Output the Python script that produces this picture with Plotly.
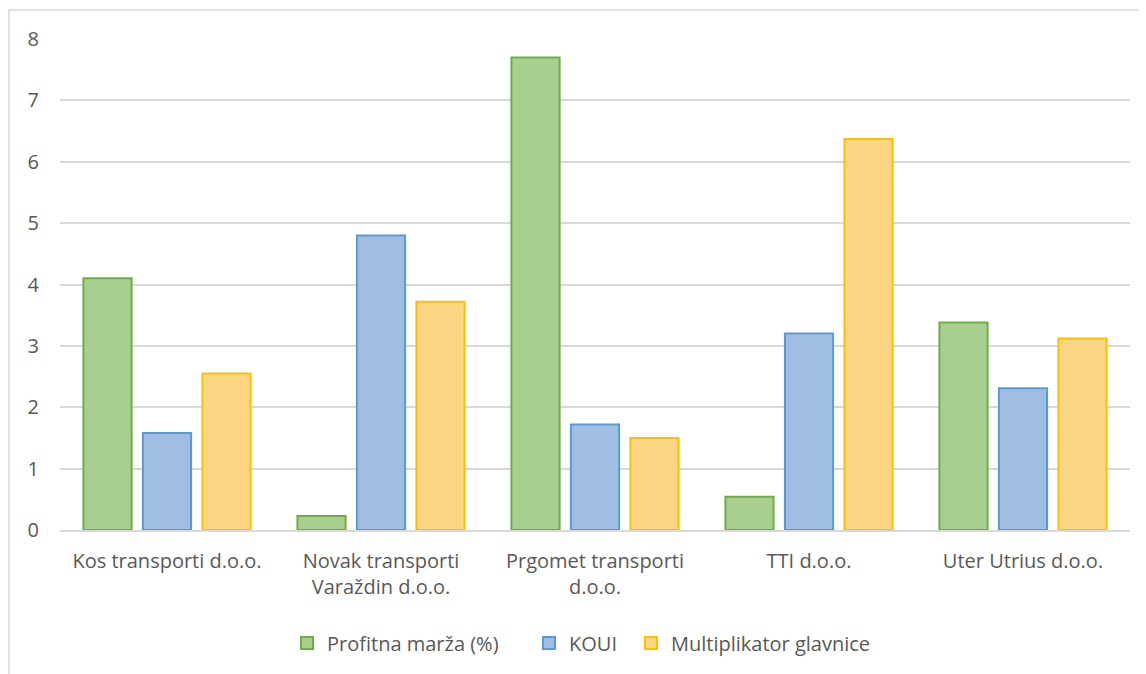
import plotly.graph_objects as go

categories = ["Kos transporti d.o.o.", "Novak transporti<br>Varaždin d.o.o.",
              "Prgomet transporti<br>d.o.o.", "TTI d.o.o.", "Uter Utrius d.o.o."]
profitna_marza = [4.10, 0.23, 7.70, 0.54, 3.38]
koui = [1.58, 4.80, 1.72, 3.20, 2.31]
multiplikator = [2.55, 3.72, 1.50, 6.37, 3.12]
series_names = ["Profitna marža (%)", "KOUI", "Multiplikator glavnice"]
y_ticks = [0, 1, 2, 3, 4, 5, 6, 7, 8]

fills = ["#a9cf8f", "#a0bee4", "#fdd685"]
lines = ["#70ad47", "#5b9bd5", "#ffc000"]
legend_ids = ["legend", "legend2", "legend3"]

fig = go.Figure()
for name, vals, fc, lc, lg in zip(series_names, [profitna_marza, koui, multiplikator], fills, lines, legend_ids):
    fig.add_trace(go.Bar(x=categories, y=vals, name=name, legend=lg,
                         marker=dict(color=fc, line=dict(color=lc, width=2))))

font_family = "'Open Sans', sans-serif"
PL, PW, PT, PH = 52, 1070, 31, 491


def px_x(sx):
    return (sx - 8 - PL) / PW


def legend_at(square_left):
    return dict(orientation="h", x=px_x(square_left - 14), xanchor="left",
                y=-0.23, yanchor="middle", font=dict(size=20, color="#595959"),
                itemwidth=30, bgcolor="rgba(0,0,0,0)")


fig.update_layout(
    width=1138, height=666,
    margin=dict(l=PL, r=16, t=PT, b=144),
    paper_bgcolor="white", plot_bgcolor="white",
    barmode="group", bargap=0.166, bargroupgap=0.19,
    font=dict(family=font_family, size=20, color="#595959"),
    legend=legend_at(301), legend2=legend_at(543), legend3=legend_at(645),
    showlegend=True,
)
fig.update_yaxes(range=[0, 8], tickvals=y_ticks, showgrid=True, gridcolor="#d9d9d9",
                 gridwidth=1.5, zeroline=False, showline=False, ticklabelstandoff=20,
                 tickfont=dict(size=20, color="#595959"))
fig.update_xaxes(showgrid=False, showline=True, linecolor="#d9d9d9", linewidth=1.5,
                 ticklabelstandoff=12, tickfont=dict(size=20, color="#595959"))

# chart-area border (decoration)
fig.add_shape(type="rect", xref="paper", yref="paper",
              x0=(1 - PL) / PW, x1=(1200 - PL) / PW,
              y0=(522 - 720) / PH, y1=1 + 29 / PH,
              line=dict(color="#d9d9d9", width=1.5), fillcolor="rgba(0,0,0,0)", layer="below")

fig.write_html("out.html")
